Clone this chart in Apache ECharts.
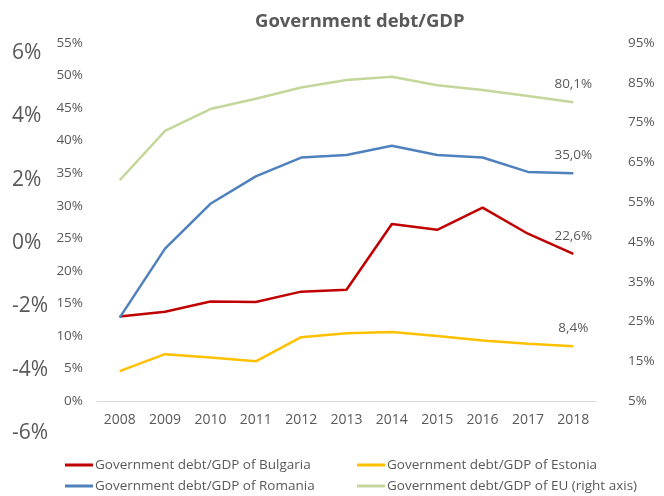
<!DOCTYPE html>
<html>
<head>
<meta charset="utf-8">
<script src="https://cdn.jsdelivr.net/npm/echarts@6/dist/echarts.min.js"></script>
<style>
  html, body { margin: 0; padding: 0; background: #fff; }
  #chart { width: 664px; height: 496px; }
</style>
</head>
<body>
<div id="chart"></div>
<script>
// Government debt as a share of GDP, 2008-2018
const years = ['2008', '2009', '2010', '2011', '2012', '2013', '2014', '2015', '2016', '2017', '2018'];
const bulgaria = [13.0, 13.7, 15.3, 15.2, 16.8, 17.1, 27.2, 26.3, 29.7, 25.7, 22.6];
const estonia  = [4.6, 7.2, 6.7, 6.1, 9.8, 10.4, 10.6, 10.0, 9.3, 8.8, 8.4];
const romania  = [12.8, 23.4, 30.3, 34.5, 37.4, 37.8, 39.2, 37.8, 37.4, 35.2, 35.0];
const eu       = [60.5, 72.9, 78.4, 81.0, 83.8, 85.7, 86.5, 84.4, 83.2, 81.7, 80.1];

const seriesNames = [
  'Government debt/GDP of Bulgaria',
  'Government debt/GDP of Estonia',
  'Government debt/GDP of Romania',
  'Government debt/GDP of EU (right axis)'
];
const colors = ['#C00000', '#FFC000', '#4F81BD', '#C4D79B'];

const FONT = 'Open Sans';
const GREY = '#595959';

const pct = v => v + '%';
const comma = v => v.toFixed(1).replace('.', ',') + '%';

// Label only the final year's value
function lastLabel(arr) {
  return arr.map((v, i) => i === arr.length - 1
    ? { value: v, label: { show: true, position: 'top', distance: 11, formatter: p => comma(p.value),
        color: GREY, fontSize: 13.5, fontFamily: FONT } }
    : v);
}

function line(name, data, color, yIndex) {
  return {
    name, type: 'line', data: lastLabel(data), yAxisIndex: yIndex,
    xAxisIndex: 0, symbol: 'circle', symbolSize: 0, showSymbol: true, smooth: false,
    lineStyle: { color, width: 2.5 }, itemStyle: { color },
    z: 3
  };
}

function legendAt(name, left, top) {
  return {
    data: [name], left, top, orient: 'horizontal',
    icon: 'rect', itemWidth: 28, itemHeight: 3, itemGap: 0, padding: 0,
    textStyle: { color: GREY, fontSize: 13.5, fontFamily: FONT, padding: [0, 0, 0, -3] },
    selectedMode: false
  };
}

const chart = echarts.init(document.getElementById('chart'));
chart.setOption({
  animation: false,
  backgroundColor: '#fff',
  title: {
    text: 'Government debt/GDP', left: 250, top: 7,
    textStyle: { color: GREY, fontSize: 18.5, fontWeight: 'bold', fontFamily: FONT }
  },
  legend: [
    legendAt(seriesNames[0], 65, 458),
    legendAt(seriesNames[1], 357, 458),
    legendAt(seriesNames[2], 65, 479),
    legendAt(seriesNames[3], 357, 479)
  ],
  grid: [
    { left: 97, right: 68, top: 43, bottom: 95 },
    { left: 60, right: 560, top: 53, bottom: 63 }
  ],
  xAxis: [
    {
      type: 'category', data: years, gridIndex: 0, boundaryGap: true,
      axisLine: { lineStyle: { color: '#D9D9D9', width: 1 } },
      axisTick: { show: false },
      axisLabel: { color: GREY, fontSize: 14, fontFamily: FONT, margin: 12 }
    },
    { type: 'value', gridIndex: 1, show: false, min: 0, max: 1 }
  ],
  yAxis: [
    {
      type: 'value', gridIndex: 0, position: 'left', min: 0, max: 55, interval: 5,
      axisLine: { show: false }, axisTick: { show: false }, splitLine: { show: false },
      axisLabel: { color: GREY, fontSize: 13.5, fontFamily: FONT, margin: 14, formatter: pct }
    },
    {
      type: 'value', gridIndex: 0, position: 'right', min: 5, max: 95, interval: 10,
      alignTicks: false,
      axisLine: { show: false }, axisTick: { show: false }, splitLine: { show: false },
      axisLabel: { color: GREY, fontSize: 13.5, fontFamily: FONT, margin: 32, formatter: pct }
    },
    {
      type: 'value', gridIndex: 1, position: 'left', min: -6, max: 6, interval: 2,
      axisLine: { show: false }, axisTick: { show: false }, splitLine: { show: false },
      axisLabel: { color: GREY, fontSize: 21, fontFamily: FONT, margin: 48, align: 'left', formatter: pct }
    }
  ],
  series: [
    line(seriesNames[0], bulgaria, colors[0], 0),
    line(seriesNames[1], estonia, colors[1], 0),
    line(seriesNames[2], romania, colors[2], 0),
    line(seriesNames[3], eu, colors[3], 1)
  ]
});
</script>
</body>
</html>
